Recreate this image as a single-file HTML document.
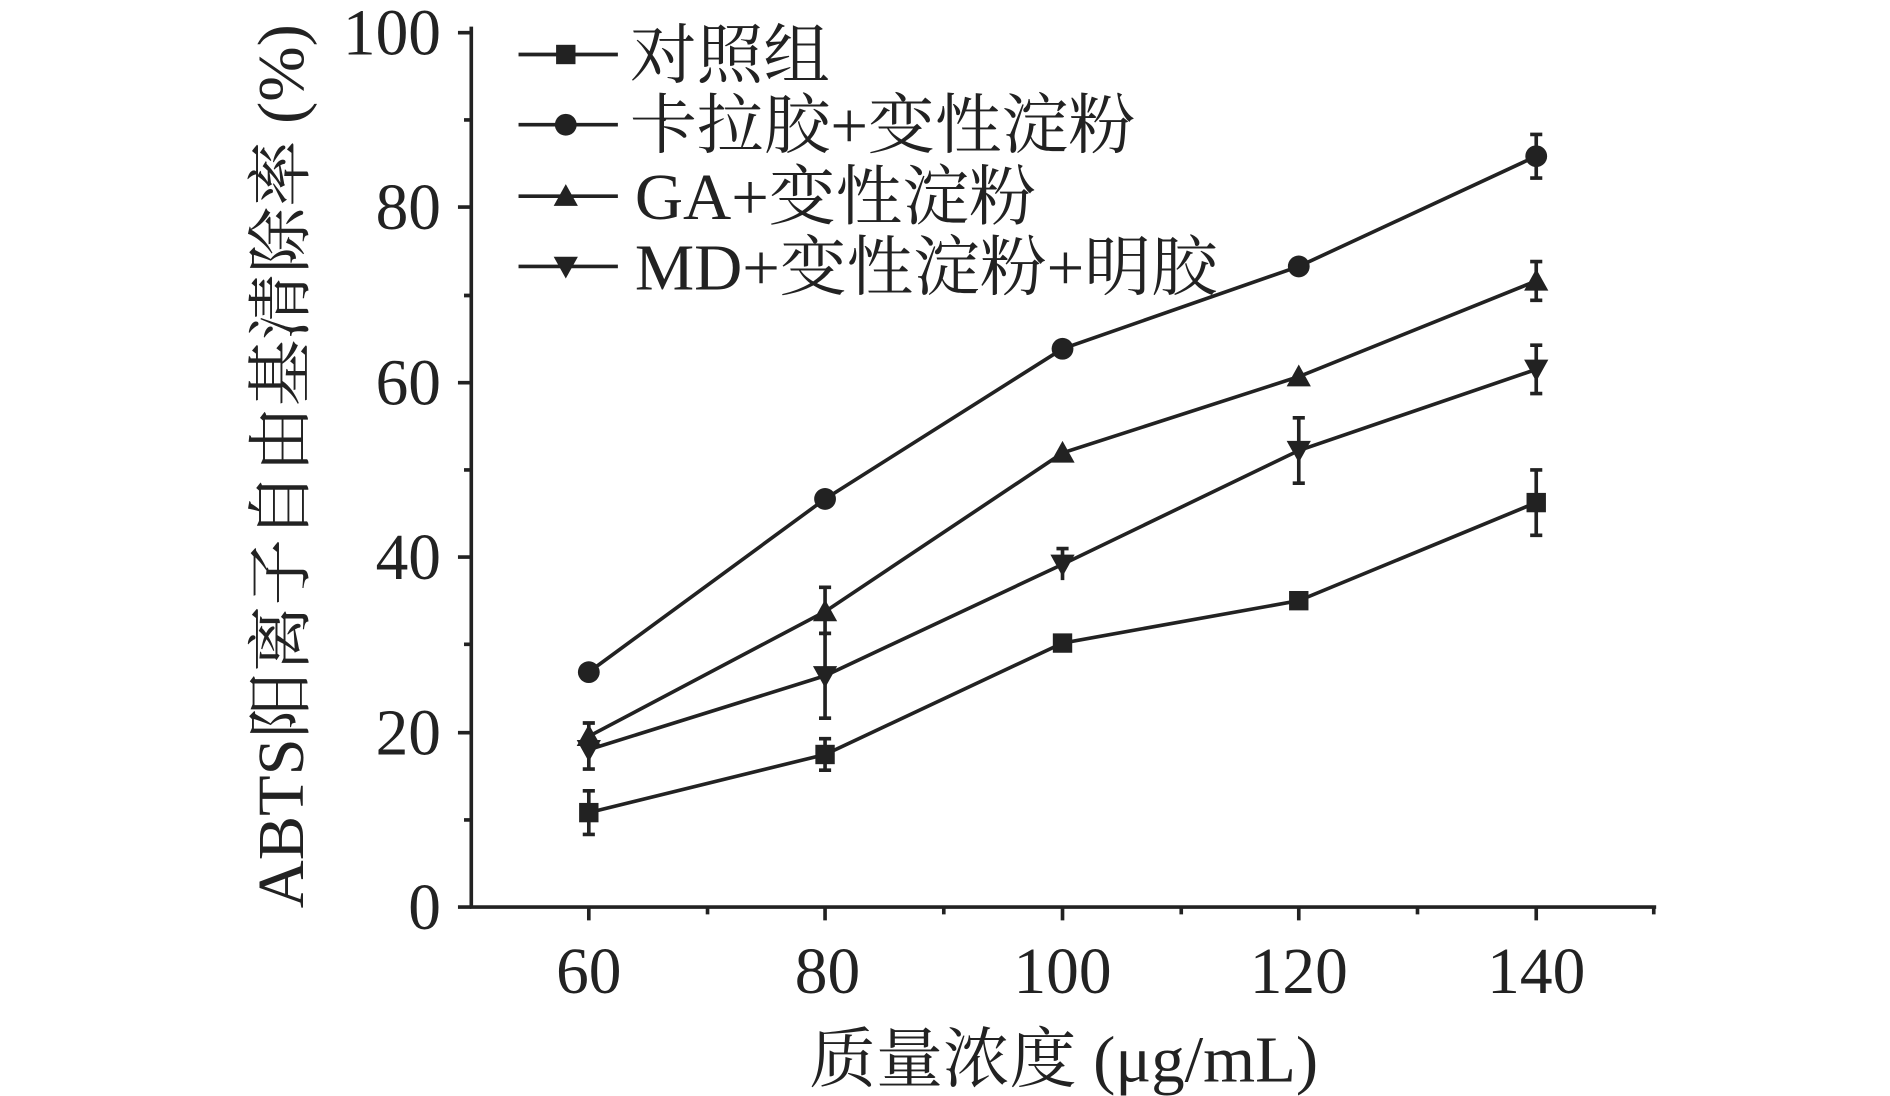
<!DOCTYPE html>
<html><head><meta charset="utf-8"><style>
html,body{margin:0;padding:0;background:#fff;}
svg{display:block;}
text{font-family:"Liberation Serif","Noto Serif CJK SC",serif;fill:#222;}
</style></head><body>
<svg width="1890" height="1096" viewBox="0 0 1560 905" preserveAspectRatio="none">
<g stroke="#222" stroke-width="3" fill="none">
<line x1="389" y1="22" x2="389" y2="750"/>
<line x1="388" y1="749" x2="1367" y2="749"/>
<path d="M378 27H389M378 171H389M378 316H389M378 460H389M378 605H389M378 749H389"/>
<path d="M383 99H389M383 244H389M383 388H389M383 532H389M383 677H389"/>
<path d="M486 749V760M681 749V760M877 749V760M1072 749V760M1268 749V760"/>
<path d="M584 749V755M779 749V755M975 749V755M1170 749V755M1365 749V755"/>
</g>
<g font-size="54" text-anchor="end">
<text x="364" y="767">0</text><text x="364" y="623">20</text><text x="364" y="478">40</text>
<text x="364" y="334">60</text><text x="364" y="189">80</text><text x="364" y="45">100</text>
</g>
<g font-size="54" text-anchor="middle">
<text x="486" y="820">60</text><text x="683" y="820">80</text><text x="877" y="820">100</text>
<text x="1072" y="820">120</text><text x="1268" y="820">140</text>
<text x="878" y="893" textLength="420" lengthAdjust="spacingAndGlyphs">质量浓度 (μg/mL)</text>
<text transform="translate(250,385) rotate(-90)" textLength="730" lengthAdjust="spacingAndGlyphs">ABTS阳离子自由基清除率 (%)</text>
</g>
<g stroke="#222" stroke-width="3" fill="none">
<polyline points="486,671 681,623 877,531 1072,496 1268,415"/>
<polyline points="486,555 681,412 877,288 1072,220 1268,129"/>
<polyline points="486,608 681,505 877,374 1072,311 1268,232"/>
<polyline points="486,619 681,558 877,466 1072,372 1268,305"/>
<path d="M486 653V689M481 653H491M481 689H491M681 610V636M676 610H686M676 636H686M877 524V538M1072 489V503M1268 388V442M1263 388H1273M1263 442H1273"/>
<path d="M1072 213V227M1268 111V147M1263 111H1273M1263 147H1273M877 283V293M681 406V418"/>
<path d="M486 597V619M481 597H491M681 485V525M676 485H686M877 368V380M1072 304V318M1268 216V248M1263 216H1273M1263 248H1273"/>
<path d="M486 603V635M481 635H491M681 523V593M676 523H686M676 593H686M877 453V479M872 453H882M1072 345V399M1067 345H1077M1067 399H1077M1268 285V325M1263 285H1273M1263 325H1273"/>
<path d="M428 45H510M428 103H510M428 162H510M428 220H510"/>
</g>
<g fill="#222">
<rect x="478" y="663" width="16" height="16"/><rect x="673" y="615" width="16" height="16"/>
<rect x="869" y="523" width="16" height="16"/><rect x="1064" y="488" width="16" height="16"/>
<rect x="1260" y="407" width="16" height="16"/><rect x="459" y="37" width="16" height="16"/>
<circle cx="486" cy="555" r="9"/><circle cx="681" cy="412" r="9"/><circle cx="877" cy="288" r="9"/>
<circle cx="1072" cy="220" r="9"/><circle cx="1268" cy="129" r="9"/><circle cx="467" cy="103" r="9"/>
<path d="M486 598L496 616H476Z M681 495L691 513H671Z M877 364L887 382H867Z M1072 301L1082 319H1062Z M1268 222L1278 240H1258Z M467 152L477 170H457Z"/>
<path d="M476 611H496L486 629Z M671 550H691L681 568Z M867 458H887L877 476Z M1062 364H1082L1072 382Z M1258 297H1278L1268 315Z M457 212H477L467 230Z"/>
</g>
<g font-size="54">
<text x="520" y="64" textLength="165" lengthAdjust="spacingAndGlyphs">对照组</text>
<text x="520" y="122" textLength="417" lengthAdjust="spacingAndGlyphs">卡拉胶+变性淀粉</text>
<text x="524" y="181" textLength="331" lengthAdjust="spacingAndGlyphs">GA+变性淀粉</text>
<text x="524" y="239" textLength="481" lengthAdjust="spacingAndGlyphs">MD+变性淀粉+明胶</text>
</g>
</svg>
</body></html>
